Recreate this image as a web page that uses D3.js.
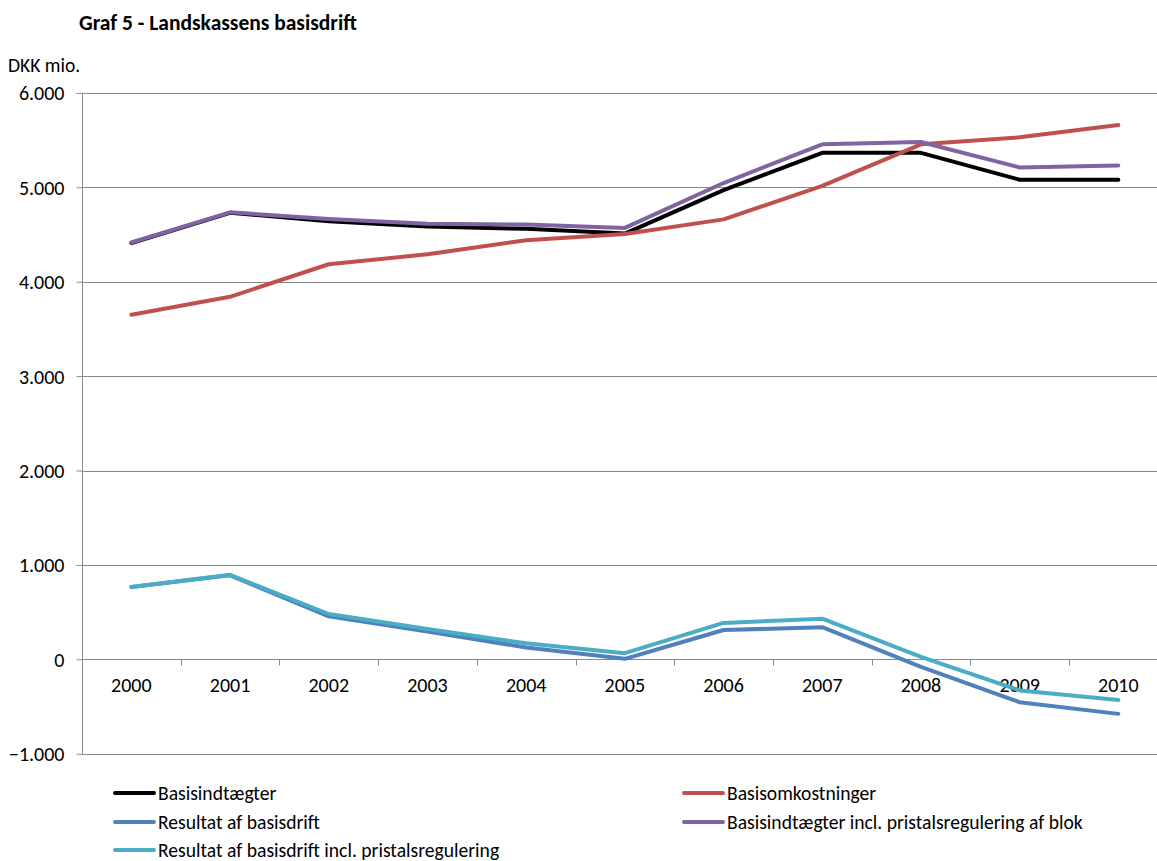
<!DOCTYPE html>
<html><head><meta charset="utf-8">
<script src="https://cdn.jsdelivr.net/npm/d3@7"></script>
<style>
html,body{margin:0;padding:0;background:#fff;overflow:hidden}
svg{display:block}
text{font-family:Carlito, Lato, sans-serif;fill:#000}
</style></head><body>
<svg id="c" width="1157" height="861"></svg>
<script>
const years = ["2000","2001","2002","2003","2004","2005","2006","2007","2008","2009","2010"];
const basisindtaegter = [4410, 4730, 4640, 4585, 4560, 4510, 4970, 5365, 5365, 5080, 5080];
const basisomkostninger = [3650, 3840, 4185, 4290, 4440, 4505, 4660, 5015, 5455, 5530, 5660];
const resultat = [765, 890, 455, 295, 125, 5, 310, 340, -80, -455, -578];
const indtaegterBlok = [4415, 4735, 4665, 4615, 4605, 4570, 5045, 5455, 5480, 5210, 5230];
const resultatPris = [765, 895, 480, 320, 170, 65, 385, 430, 25, -330, -432];
const yTicks = [-1000, 0, 1000, 2000, 3000, 4000, 5000, 6000];

const seriesNames = ["Basisindtægter","Basisomkostninger","Resultat af basisdrift","Basisindtægter incl. pristalsregulering af blok","Resultat af basisdrift incl. pristalsregulering"];
const seriesValues = [basisindtaegter, basisomkostninger, resultat, indtaegterBlok, resultatPris];
const seriesColors = ["#000000","#C0504D","#4F81BD","#8064A2","#4BACC6"];

const FONT = "Carlito, Lato, sans-serif";
const svg = d3.select("#c");
const left = 82, bandW = 98.7;
const x = d3.scaleBand().domain(years).range([left, left + bandW*years.length]).padding(0);
const y = d3.scaleLinear().domain([-1000, 6000]).range([753.7, 92.9]);
const fmt = v => v === 0 ? "0" : d3.format(",")(v).replace(/,/g, ".");

svg.append("text").attr("x", 79).attr("y", 30).attr("font-weight", "bold").attr("font-size", 21.5)
  .attr("font-family", FONT).text("Graf 5 - Landskassens basisdrift");
svg.append("text").attr("x", 8).attr("y", 72).attr("font-size", 19.6).attr("font-family", FONT).text("DKK mio.");

// gridlines
svg.append("g").selectAll("line").data(yTicks).join("line")
  .attr("x1", left).attr("x2", 1157).attr("y1", d => Math.round(y(d))+0.5).attr("y2", d => Math.round(y(d))+0.5)
  .attr("stroke", "#8a8a8a").attr("stroke-width", 1);

// y axis
const yAxis = d3.axisLeft(y).tickValues(yTicks).tickFormat(fmt).tickSize(6).tickPadding(12);
const ga = svg.append("g").attr("transform", `translate(${left+0.5},0)`).call(yAxis);
ga.attr("font-size", null).attr("font-family", null);
ga.select(".domain").attr("stroke", "#8a8a8a").attr("d", `M0,${y(6000)}V${y(-1000)}`);
ga.selectAll(".tick line").attr("stroke", "#8a8a8a");
ga.selectAll(".tick text").attr("font-size", 20).attr("font-family", FONT).attr("fill", "#000").attr("dy", "0.35em");

// x axis at zero
const y0 = Math.round(y(0))+0.5;
const xAxis = d3.axisBottom(x).tickSize(0).tickPadding(18);
const gx = svg.append("g").attr("transform", `translate(0,${y0})`).call(xAxis);
gx.attr("font-size", null).attr("font-family", null);
gx.select(".domain").remove();
gx.selectAll(".tick text").attr("font-size", 20).attr("font-family", FONT).attr("fill", "#000");
svg.append("g").selectAll("line").data(years.slice(1)).join("line")
  .attr("x1", d => Math.round(x(d))+0.5).attr("x2", d => Math.round(x(d))+0.5)
  .attr("y1", y0).attr("y2", y0 + 6).attr("stroke", "#8a8a8a");

// lines
const line = d3.line().x((d, i) => x(years[i]) + x.bandwidth()/2).y(d => y(d));
seriesValues.forEach((vals, i) => {
  svg.append("path").datum(vals).attr("d", line).attr("fill", "none")
    .attr("stroke", seriesColors[i]).attr("stroke-width", 4)
    .attr("stroke-linejoin", "round").attr("stroke-linecap", "round");
});

// legend
const legendPos = [[115,793],[684,793],[115,822],[684,822],[115,850]];
seriesNames.forEach((n, i) => {
  const [lx, ly] = legendPos[i];
  svg.append("line").attr("x1", lx).attr("x2", lx+39).attr("y1", ly).attr("y2", ly)
    .attr("stroke", seriesColors[i]).attr("stroke-width", 4).attr("stroke-linecap", "round");
  svg.append("text").attr("x", lx+43).attr("y", ly).attr("dy", "0.35em").attr("font-size", 19.6)
    .attr("font-family", FONT).text(n);
});
</script>
</body></html>
